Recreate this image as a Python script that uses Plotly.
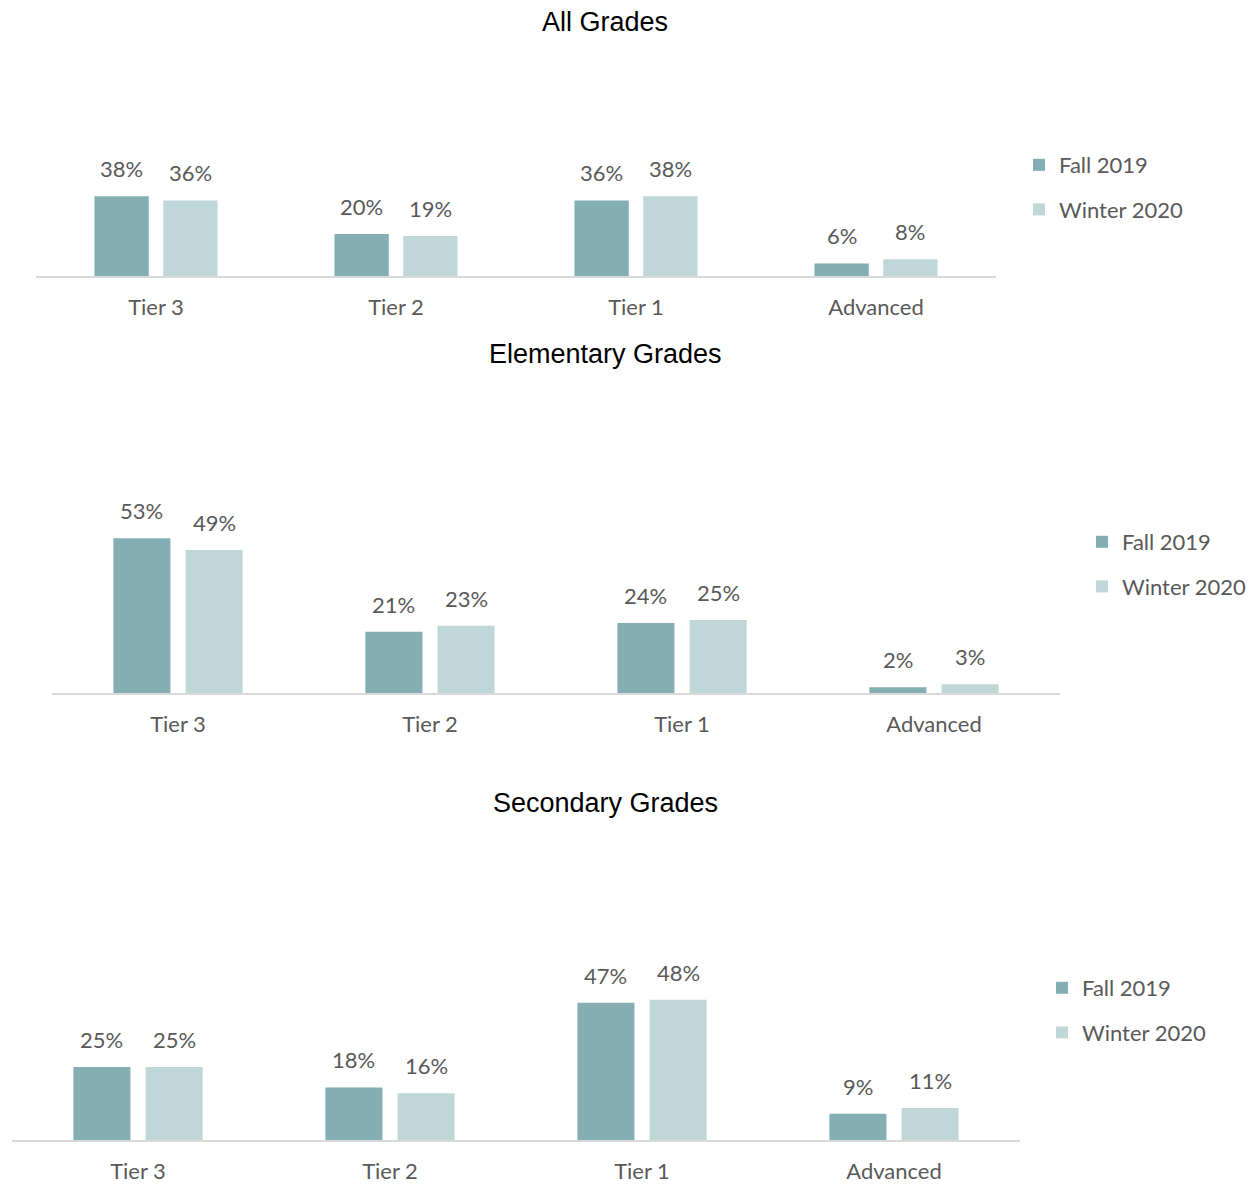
import plotly.graph_objects as go

# Data
tiers = ["Tier 3", "Tier 2", "Tier 1", "Advanced"]
series_names = ["Fall 2019", "Winter 2020"]

all_fall = [38, 20, 36, 6]
all_winter = [36, 19, 38, 8]
elem_fall = [53, 21, 24, 2]
elem_winter = [49, 23, 25, 3]
sec_fall = [25, 18, 47, 9]
sec_winter = [25, 16, 48, 11]

panel_titles = ["All Grades", "Elementary Grades", "Secondary Grades"]

W, H = 1256, 1184
FALL_COLOR = "#84AEB3"
WINTER_COLOR = "#C0D7D9"
TEXT_COLOR = "#595959"
LABEL_FONT = "Lato"
TITLE_FONT = "Liberation Sans"
BARGAP = 0.427
BARGROUPGAP = 0.21


def px_x(p):
    return p / W


def px_y(p):
    return 1 - p / H


# pixel layout for each panel: x-left, x-right, axis baseline, y max, title y, legend x, legend y
panels = [
    dict(fall=all_fall, winter=all_winter, x0=36, x1=996, base=276, ymax=100,
         title_y=22, leg_x=1019, leg_y=144),
    dict(fall=elem_fall, winter=elem_winter, x0=52, x1=1060, base=693, ymax=80,
         title_y=354, leg_x=1082, leg_y=521),
    dict(fall=sec_fall, winter=sec_winter, x0=12, x1=1020, base=1140, ymax=80,
         title_y=803, leg_x=1042, leg_y=967),
]
px_per_unit = [2.1, 2.92, 2.92]

fig = go.Figure()
annotations = []

for i, (p, scale) in enumerate(zip(panels, px_per_unit)):
    k = "" if i == 0 else str(i + 1)
    xa, ya = "x" + k, "y" + k
    leg = "legend" + k
    top = p["base"] - p["ymax"] * scale

    for j, (name, vals, color) in enumerate(
        [(series_names[0], p["fall"], FALL_COLOR), (series_names[1], p["winter"], WINTER_COLOR)]
    ):
        fig.add_trace(go.Bar(
            x=tiers, y=vals, name=name, marker=dict(color=color, line=dict(width=0)),
            xaxis=xa, yaxis=ya, legend=leg, legendgroup=f"{leg}-{j}",
            hoverinfo="skip",
        ))

    # value labels above each bar
    cat_px = (p["x1"] - p["x0"]) / len(tiers)
    off = cat_px * (1 - BARGAP) / 4
    for vals, sign in [(p["fall"], -1), (p["winter"], 1)]:
        for t, v in zip(tiers, vals):
            annotations.append(dict(
                x=t, y=v, xref=xa, yref=ya, text=f"{v}%", showarrow=False,
                xshift=sign * off, yshift=12, yanchor="bottom",
                font=dict(family=LABEL_FONT, size=22, color=TEXT_COLOR),
            ))

    annotations.append(dict(
        x=0.482, y=px_y(p["title_y"]), xref="paper", yref="paper",
        text=panel_titles[i], showarrow=False, xanchor="center", yanchor="middle",
        font=dict(family=TITLE_FONT, size=27, color="#000000"),
    ))

    fig.update_layout({
        "xaxis" + k: dict(
            domain=[px_x(p["x0"]), px_x(p["x1"])], anchor=ya,
            showline=True, linecolor="#D9D9D9", linewidth=2,
            showgrid=False, zeroline=False, ticks="",
            tickfont=dict(family=LABEL_FONT, size=22, color=TEXT_COLOR),
            ticklabelstandoff=11, fixedrange=True,
        ),
        "yaxis" + k: dict(
            domain=[px_y(p["base"]), px_y(top)], anchor=xa,
            range=[0, p["ymax"]], visible=False, fixedrange=True,
        ),
        leg: dict(
            x=px_x(p["leg_x"]), y=px_y(p["leg_y"]), xanchor="left", yanchor="top",
            font=dict(family=LABEL_FONT, size=22, color=TEXT_COLOR),
            tracegroupgap=13, bgcolor="rgba(0,0,0,0)", itemclick=False,
        ),
    })

fig.update_layout(
    width=W, height=H, margin=dict(l=0, r=0, t=0, b=0),
    paper_bgcolor="white", plot_bgcolor="white",
    barmode="group", bargap=BARGAP, bargroupgap=BARGROUPGAP,
    showlegend=True, annotations=annotations,
)

fig.write_html("out.html")
